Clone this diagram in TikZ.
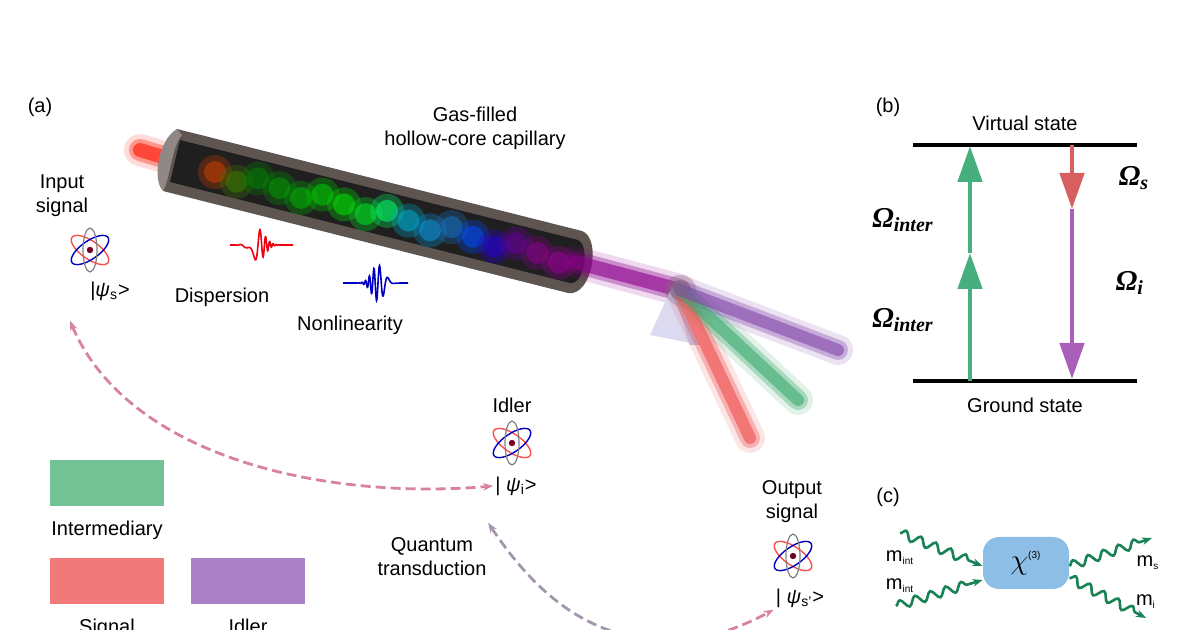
\documentclass[tikz,border=0pt]{standalone}
\usepackage{fontspec}
\setmainfont{Liberation Sans}
\newfontfamily\omfont{Liberation Serif}
\usepackage{amsmath}
\usetikzlibrary{arrows.meta, positioning, decorations.pathmorphing}
\definecolor{beamred}{RGB}{238,80,80}
\definecolor{beamgreen}{RGB}{60,170,110}
\definecolor{beampurple}{RGB}{130,70,170}
\definecolor{arrowgreen}{RGB}{70,175,125}
\definecolor{arrowred}{RGB}{215,95,95}
\definecolor{arrowpurple}{RGB}{170,95,185}
\definecolor{dashpink}{RGB}{215,130,160}
\definecolor{dashgray}{RGB}{165,150,175}
\definecolor{wavegreen}{RGB}{25,130,85}
\definecolor{chibox}{RGB}{140,190,230}
\definecolor{tubegray}{RGB}{95,85,80}
\newcommand{\omlabel}[1]{{\omfont\bfseries\itshape\Large Ω\textsubscript{\normalsize #1}}}

\begin{document}
\begin{tikzpicture}[x=0.5pt, y=-0.5pt, font=\normalsize]
      % Styles
      \tikzset{label/.style={align=center, inner sep=1pt}}
      \tikzset{ket/.style={inner sep=1pt}}
      \tikzset{blob/.style={circle, minimum size=#1, inner sep=0pt}}
      \tikzset{level/.style={line width=1.6pt}}
      \tikzset{trans/.style={line width=2.4pt, -{Triangle[length=18pt, width=12pt]}}}
      \tikzset{wave/.style={wavegreen, line width=1.3pt, decorate, decoration={snake, amplitude=2.2pt, segment length=8pt, post length=5pt}}}
      \tikzset{transfer/.style={dashed, line width=1.4pt, dash pattern=on 5pt off 2.5pt, -{Stealth[length=5pt]}}}
      \tikzset{legend/.style={rectangle, minimum width=57pt, minimum height=23pt, inner sep=0pt}}
      \tikzset{atom/.pic={
          \draw[red!70, line width=0.7pt, rotate=-35] (0,0) ellipse (11pt and 4.5pt);
          \draw[blue!75!black, line width=0.7pt, rotate=35] (0,0) ellipse (11pt and 4.5pt);
          \draw[gray, line width=0.6pt] (0,0) ellipse (3.5pt and 11pt);
          \fill[purple!60!black] (0,0) circle (1.6pt);
      }}

      \useasboundingbox (0,0) rectangle (1200,630);

      % --- Panel labels ---
      \node[label] (tag_a) at (40,107) {(a)};
      \node[label] (tag_b) at (888,107) {(b)};
      \node[label] (tag_c) at (888,497) {(c)};

      % --- Input beam ---
      \foreach \w/\o in {16/0.15, 11/0.35, 7/0.6}
        \draw[red!85!orange, line width=\w pt, opacity=\o, line cap=round] (140,150) -- (200,168);

      % --- The capillary ---
      \fill[tubegray] (177,129) -- (582,231) .. controls (602,238) and (592,297) .. (568,293) -- (163,191) -- cycle;
      \fill[black!88] (180,140) -- (578,240) .. controls (590,246) and (585,285) .. (570,283) -- (170,182) -- cycle;
      \fill[tubegray!70!white] (177,129) .. controls (158,140) and (152,180) .. (163,191)
        .. controls (170,180) and (172,145) .. (182,135) -- cycle;
      \foreach \t/\c in {0/orange!60!red!80!black, 1/orange!40!green!60!black, 2/green!50!black, 3/green!60!black,
                         4/green!70!black, 5/green!80!black, 6/green!90!black, 7/green!85!cyan!90!black,
                         8/green!60!cyan, 9/cyan!80!green, 10/cyan!80!blue, 11/cyan!50!blue,
                         12/blue!70!cyan, 13/blue!70!violet, 14/violet!80!blue, 15/violet!90!magenta,
                         16/violet!80!magenta}
      {
        \pgfmathsetmacro{\bx}{215+\t*21.5}
        \pgfmathsetmacro{\by}{172+\t*5.4+5*sin(\t*120)}
        \node[blob=17pt, fill=\c, opacity=0.3] (beam\t) at (\bx,\by) {};
        \node[blob=11pt, fill=\c, opacity=0.55] at (\bx,\by) {};
      }

      % --- Output beam and prism ---
      \coordinate (split) at (680,290);
      \foreach \w/\o in {16/0.15, 11/0.35, 7/0.6}
        \draw[violet!90!magenta, line width=\w pt, opacity=\o, line cap=round] (575,262) -- (split);
      \fill[cyan!20!blue!15, opacity=0.9] (672,287) -- (700,345) -- (650,335) -- cycle;
      \fill[cyan!30!blue!25] (672,287) -- (700,345) -- (690,345) -- cycle;
      \foreach \w/\o in {15/0.15, 10/0.35, 6/0.6}
      {
        \draw[beamred, line width=\w pt, opacity=\o, line cap=round] (split) -- (750,438);
        \draw[beamgreen, line width=\w pt, opacity=\o, line cap=round] (split) -- (798,400);
        \draw[beampurple, line width=\w pt, opacity=\o, line cap=round] (split) -- (838,350);
      }

      \node[label] (capillary) at (475,128) {Gas-filled\\hollow-core capillary};

      % --- Pulses ---
      \draw[red!75!purple, line width=0.8pt, domain=-28:35, samples=220, smooth]
        plot ({258+\x}, {245-16*exp(-(\x*\x)/90)*sin(\x*(40+2.5*\x))});
      \draw[blue!75!black, line width=0.8pt, domain=-35:30, samples=220, smooth]
        plot ({378+\x}, {283-18*exp(-(\x*\x)/80)*sin(\x*(60-1.5*\x))});
      \node[label] (dispersion) at (222,297) {Dispersion};
      \node[label] (nonlinearity) at (350,325) {Nonlinearity};

      % --- Atoms and states ---
      \node[label] (input) at (62,196) {Input\\signal};
      \pic at (90,250) {atom};
      \node[ket] (ket_s) at (110,291) {|\textit{ψ}\textsubscript{s}>};

      \node[label] (idler) at (512,405) {Idler};
      \pic at (512,443) {atom};
      \node[ket] (ket_i) at (516,486) {| \textit{ψ}\textsubscript{i}>};

      \node[label] (output) at (792,502) {Output\\signal};
      \pic at (793,556) {atom};
      \node[ket] (ket_o) at (800,598) {| \textit{ψ}\textsubscript{s'}>};

      \node[label] (transduction) at (432,557) {Quantum\\transduction};

      % --- Transfer arrows ---
      \draw[transfer, dashpink, {Stealth[length=5pt]}-{Stealth[length=5pt]}] (ket_s.south west) ++(-18,18)
        .. controls (130,460) and (330,500) .. (ket_i.west);
      \draw[transfer, dashgray, {Stealth[length=5pt]}-] (ket_i.south west) ++(-5,25)
        .. controls (540,600) and (600,650) .. (700,640);
      \draw[transfer, dashpink] (700,640) .. controls (730,630) and (745,625) .. (ket_o.south west);

      % --- Legend ---
      \node[legend, fill=beamgreen!85, opacity=0.85] (leg_int) at (107,483) {};
      \node[label, below=6pt of leg_int] (leg_int_txt) {Intermediary};
      \node[legend, fill=beamred!90, opacity=0.85] (leg_sig) at (107,581) {};
      \node[legend, fill=beampurple!80, opacity=0.85] (leg_idl) at (248,581) {};
      \node[label, below=6pt of leg_sig] (leg_sig_txt) {Signal};
      \node[label, below=6pt of leg_idl] (leg_idl_txt) {Idler};

      % --- Panel (b): energy levels ---
      \draw[level] (913,145) coordinate (virt_l) -- (1137,145) coordinate (virt_r);
      \draw[level] (913,381) coordinate (gnd_l) -- (1137,381) coordinate (gnd_r);
      \node[label] (virtual) at (1025,123) {Virtual state};
      \node[label] (ground) at (1025,405) {Ground state};
      \draw[trans, arrowgreen] (970,381) -- (970,253);
      \draw[trans, arrowgreen] (970,253) -- (970,146);
      \draw[trans, arrowred] (1072,145) -- (1072,209);
      \draw[trans, arrowpurple] (1072,209) -- (1072,379);
      \node[label] (om_inter1) at (903,220) {\omlabel{inter}};
      \node[label] (om_inter2) at (903,320) {\omlabel{inter}};
      \node[label] (om_s) at (1134,178) {\omlabel{s}};
      \node[label] (om_i) at (1130,283) {\omlabel{i}};

      % --- Panel (c): four-wave mixing ---
      \node[rectangle, rounded corners=8pt, fill=chibox, minimum width=43pt, minimum height=26pt] (chi) at (1026,563)
        {\Large$\chi^{\text{\tiny(3)}}$};
      \draw[wave, -{Stealth[length=5pt]}] (900,533) -- (chi.west |- 0,566);
      \draw[wave, -{Stealth[length=5pt]}] (896,606) -- (chi.west |- 0,580);
      \draw[wave, -{Stealth[length=5pt]}] (chi.east |- 0,566) -- (1152,538);
      \draw[wave, -{Stealth[length=5pt]}] (chi.east |- 0,578) -- (1146,618);
      \node[label] (m_int1) at (900,558) {m\textsubscript{\tiny int}};
      \node[label] (m_int2) at (900,586) {m\textsubscript{\tiny int}};
      \node[label] (m_s) at (1148,563) {m\textsubscript{\tiny s}};
      \node[label] (m_i) at (1146,602) {m\textsubscript{\tiny i}};
    \end{tikzpicture}
\end{document}
